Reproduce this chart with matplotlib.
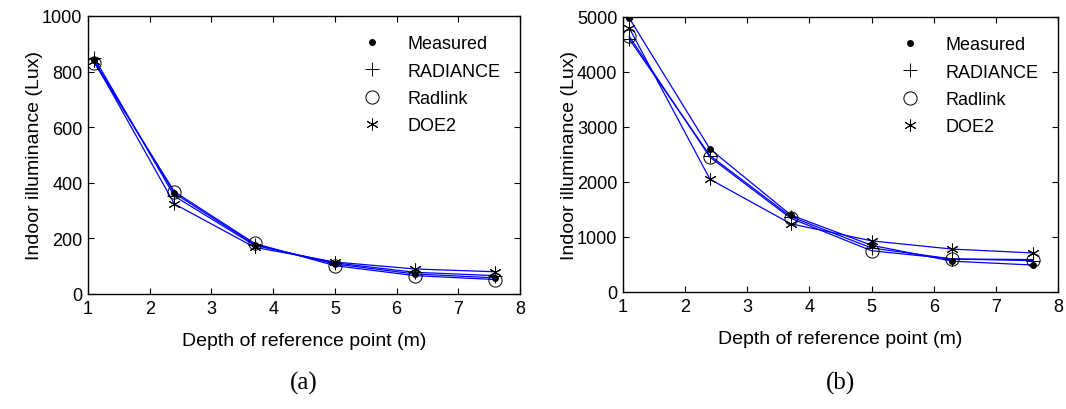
import matplotlib
matplotlib.use("Agg")
import matplotlib.pyplot as plt
from matplotlib.lines import Line2D

plt.rcParams['font.family'] = ['Liberation Sans', 'DejaVu Sans']

depth = [1.1, 2.4, 3.7, 5.0, 6.3, 7.6]
series_names = ["Measured", "RADIANCE", "Radlink", "DOE2"]

a_measured = [840, 362, 178, 108, 72, 58]
a_radiance = [850, 352, 175, 112, 78, 66]
a_radlink = [832, 368, 182, 102, 66, 52]
a_doe2 = [838, 324, 168, 115, 90, 80]

b_measured = [4980, 2600, 1400, 850, 560, 490]
b_radiance = [4600, 2480, 1370, 800, 600, 570]
b_radlink = [4650, 2450, 1340, 750, 600, 590]
b_doe2 = [4800, 2050, 1240, 930, 780, 710]

a_yticks = [0, 200, 400, 600, 800, 1000]
b_yticks = [0, 1000, 2000, 3000, 4000, 5000]
xticks = [1, 2, 3, 4, 5, 6, 7, 8]
captions = ["(a)", "(b)"]

markers = [
    dict(marker='o', markersize=4, markerfacecolor='k', markeredgecolor='k'),
    dict(marker='+', markersize=10, markeredgecolor='k', markeredgewidth=0.7),
    dict(marker='o', markersize=9.5, markerfacecolor='none', markeredgecolor='k', markeredgewidth=0.7),
    dict(marker=(6, 2, 0), markersize=8.5, markeredgecolor='k', markeredgewidth=0.7),
]

fig = plt.figure(figsize=(10.66, 4.10), dpi=100)
ax_a = fig.add_axes([88/1066, 1-295/410, (520-88)/1066, (295-17)/410])
ax_b = fig.add_axes([623/1066, 1-293/410, (1058-623)/1066, (293-18)/410])

panels = [
    (ax_a, [a_measured, a_radiance, a_radlink, a_doe2], (0, 1000), a_yticks),
    (ax_b, [b_measured, b_radiance, b_radlink, b_doe2], (0, 5000), b_yticks),
]

for (ax, data, ylim, yt), cap in zip(panels, captions):
    for vals in data:
        ax.plot(depth, vals, color=(0, 0, 1), linewidth=0.9, zorder=2)
    handles = []
    for name, vals, mk in zip(series_names, data, markers):
        ax.plot(depth, vals, linestyle='none', zorder=3, **mk)
        handles.append(Line2D([], [], linestyle='none', label=name, **mk))
    ax.set_xlim(1, 8)
    ax.set_ylim(*ylim)
    ax.set_xticks(xticks)
    ax.set_yticks(yt)
    ax.tick_params(direction='in', top=True, right=True, labelsize=13,
                   length=4, width=0.8, pad=4)
    for s in ax.spines.values():
        s.set_linewidth(1.0)
    ax.set_xlabel("Depth of reference point (m)", fontsize=14, labelpad=11)
    ax.set_ylabel("Indoor illuminance (Lux)", fontsize=14, labelpad=-1)
    leg = ax.legend(handles=handles, loc='upper right', frameon=False,
                    fontsize=13, handlelength=1.5, handletextpad=1.2,
                    labelspacing=0.57, borderaxespad=0.67)
    pos = ax.get_position()
    fig.text((pos.x0 + pos.x1) / 2, 1 - 383/410, cap, ha='center', va='center',
             fontsize=18, family='Liberation Serif')

fig.savefig("out.png", dpi=100)
